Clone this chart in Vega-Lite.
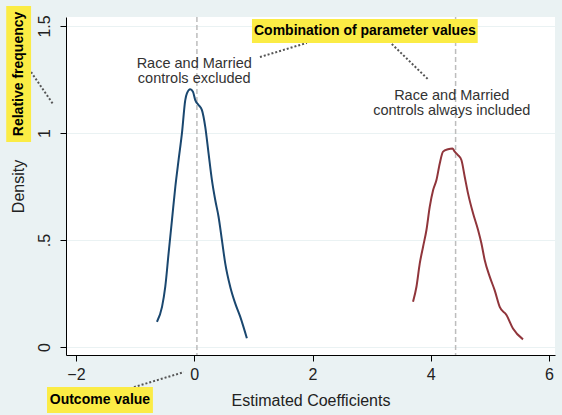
{
  "$schema": "https://vega.github.io/schema/vega-lite/v6.json",
  "width": 489,
  "height": 338,
  "autosize": {"type": "none"},
  "padding": {"left": 66, "top": 17, "right": 7, "bottom": 60},
  "background": "#EAF2F3",
  "config": {
    "view": {"fill": "white", "stroke": null},
    "font": "Liberation Sans",
    "axis": {"labelFont": "Liberation Sans", "titleFont": "Liberation Sans", "titleFontWeight": "normal", "labelColor": "#222", "titleColor": "#222"}
  },
  "datasets": {
    "curves": [
      {"series": "excluded", "x": -0.63, "y": 0.118},
      {"series": "excluded", "x": -0.545, "y": 0.188},
      {"series": "excluded", "x": -0.49, "y": 0.282},
      {"series": "excluded", "x": -0.434, "y": 0.438},
      {"series": "excluded", "x": -0.377, "y": 0.593},
      {"series": "excluded", "x": -0.32, "y": 0.749},
      {"series": "excluded", "x": -0.265, "y": 0.874},
      {"series": "excluded", "x": -0.208, "y": 0.999},
      {"series": "excluded", "x": -0.152, "y": 1.154},
      {"series": "excluded", "x": -0.124, "y": 1.185},
      {"series": "excluded", "x": -0.068, "y": 1.204},
      {"series": "excluded", "x": -0.022, "y": 1.193},
      {"series": "excluded", "x": 0.017, "y": 1.154},
      {"series": "excluded", "x": 0.073, "y": 1.131},
      {"series": "excluded", "x": 0.13, "y": 1.107},
      {"series": "excluded", "x": 0.186, "y": 1.029},
      {"series": "excluded", "x": 0.242, "y": 0.905},
      {"series": "excluded", "x": 0.299, "y": 0.78},
      {"series": "excluded", "x": 0.355, "y": 0.687},
      {"series": "excluded", "x": 0.411, "y": 0.609},
      {"series": "excluded", "x": 0.468, "y": 0.5},
      {"series": "excluded", "x": 0.524, "y": 0.391},
      {"series": "excluded", "x": 0.608, "y": 0.282},
      {"series": "excluded", "x": 0.693, "y": 0.204},
      {"series": "excluded", "x": 0.777, "y": 0.142},
      {"series": "excluded", "x": 0.89, "y": 0.041},
      {"series": "included", "x": 3.7, "y": 0.212},
      {"series": "included", "x": 3.758, "y": 0.282},
      {"series": "included", "x": 3.814, "y": 0.391},
      {"series": "included", "x": 3.87, "y": 0.469},
      {"series": "included", "x": 3.927, "y": 0.547},
      {"series": "included", "x": 3.983, "y": 0.656},
      {"series": "included", "x": 4.04, "y": 0.734},
      {"series": "included", "x": 4.096, "y": 0.78},
      {"series": "included", "x": 4.152, "y": 0.858},
      {"series": "included", "x": 4.208, "y": 0.913},
      {"series": "included", "x": 4.292, "y": 0.924},
      {"series": "included", "x": 4.366, "y": 0.928},
      {"series": "included", "x": 4.405, "y": 0.913},
      {"series": "included", "x": 4.46, "y": 0.897},
      {"series": "included", "x": 4.518, "y": 0.874},
      {"series": "included", "x": 4.574, "y": 0.796},
      {"series": "included", "x": 4.63, "y": 0.718},
      {"series": "included", "x": 4.715, "y": 0.625},
      {"series": "included", "x": 4.8, "y": 0.547},
      {"series": "included", "x": 4.856, "y": 0.485},
      {"series": "included", "x": 4.912, "y": 0.407},
      {"series": "included", "x": 4.997, "y": 0.329},
      {"series": "included", "x": 5.08, "y": 0.266},
      {"series": "included", "x": 5.166, "y": 0.188},
      {"series": "included", "x": 5.28, "y": 0.15},
      {"series": "included", "x": 5.39, "y": 0.087},
      {"series": "included", "x": 5.56, "y": 0.036}
    ],
    "vlines": [{"x": 0.045}, {"x": 4.42}],
    "notes": [
      {"x": 0.0, "y": 1.322, "text": ["Race and Married", "controls excluded"]},
      {"x": 4.355, "y": 1.173, "text": ["Race and Married", "controls always included"]}
    ],
    "boxes": [
      {"x": -3.18, "x2": -2.76, "y": 1.593, "y2": 0.958, "cx": -2.97, "cy": 1.276, "label": "Relative frequency", "angle": 270},
      {"x": 0.976, "x2": 4.794, "y": 1.533, "y2": 1.421, "cx": 2.885, "cy": 1.477, "label": "Combination of parameter values", "angle": 0},
      {"x": -2.49, "x2": -0.699, "y": -0.187, "y2": -0.308, "cx": -1.595, "cy": -0.248, "label": "Outcome value", "angle": 0}
    ],
    "connectors": [
      {"x": -2.76, "y": 1.285, "x2": -2.39, "y2": 1.136},
      {"x": 1.111, "y": 1.355, "x2": 1.905, "y2": 1.421},
      {"x": 3.341, "y": 1.416, "x2": 3.95, "y2": 1.252},
      {"x": -1.02, "y": -0.187, "x2": -0.176, "y2": -0.117}
    ]
  },
  "layer": [
    {
      "data": {"name": "vlines"},
      "mark": {"type": "rule", "color": "#BDBDBD", "strokeDash": [5, 3], "strokeWidth": 1.5},
      "encoding": {
        "x": {"field": "x", "type": "quantitative", "scale": {"domain": [-2.169, 6.101], "nice": false, "zero": false},
          "axis": {"values": [-2, 0, 2, 4, 6], "format": "d", "title": "Estimated Coefficients", "titleFontSize": 16, "labelFontSize": 16, "grid": false, "domainColor": "black", "tickColor": "black", "tickSize": 6, "labelPadding": 5, "titlePadding": 10}
        }
      }
    },
    {
      "data": {"name": "curves"},
      "mark": {"type": "line", "strokeWidth": 2, "interpolate": "monotone"},
      "encoding": {
        "x": {"field": "x", "type": "quantitative"},
        "y": {"field": "y", "type": "quantitative", "scale": {"domain": [-0.037, 1.542], "nice": false, "zero": false},
          "axis": {"values": [0, 0.5, 1, 1.5], "labelExpr": "datum.value == 0.5 ? '.5' : format(datum.value, '~g')", "title": "Density", "titleFontSize": 16, "labelFontSize": 16, "labelAngle": -90, "labelAlign": "center", "labelBaseline": "bottom", "labelPadding": 8, "grid": true, "gridColor": "#EAF2F3", "gridWidth": 1.2, "domainColor": "black", "tickColor": "black", "tickSize": 6, "titlePadding": 10}
        },
        "detail": {"field": "series"},
        "color": {"field": "series", "type": "nominal", "scale": {"domain": ["excluded", "included"], "range": ["#1A476F", "#90353B"]}, "legend": null}
      }
    },
    {
      "data": {"name": "notes"},
      "mark": {"type": "text", "fontSize": 14.5, "align": "center", "baseline": "middle", "color": "#333", "lineHeight": 15},
      "encoding": {
        "x": {"field": "x", "type": "quantitative"},
        "y": {"field": "y", "type": "quantitative"},
        "text": {"field": "text"}
      }
    },
    {
      "data": {"name": "connectors"},
      "mark": {"type": "rule", "color": "#555", "strokeDash": [2, 2], "strokeWidth": 2},
      "encoding": {
        "x": {"field": "x", "type": "quantitative"},
        "y": {"field": "y", "type": "quantitative"},
        "x2": {"field": "x2"},
        "y2": {"field": "y2"}
      }
    },
    {
      "data": {"name": "boxes"},
      "mark": {"type": "rect", "color": "#FBEC45"},
      "encoding": {
        "x": {"field": "x", "type": "quantitative"},
        "y": {"field": "y", "type": "quantitative"},
        "x2": {"field": "x2"},
        "y2": {"field": "y2"}
      }
    },
    {
      "data": {"name": "boxes"},
      "mark": {"type": "text", "fontSize": 14, "fontWeight": "bold", "align": "center", "baseline": "middle", "color": "black"},
      "encoding": {
        "x": {"field": "cx", "type": "quantitative"},
        "y": {"field": "cy", "type": "quantitative"},
        "text": {"field": "label"},
        "angle": {"field": "angle", "type": "quantitative", "scale": null}
      }
    }
  ]
}
